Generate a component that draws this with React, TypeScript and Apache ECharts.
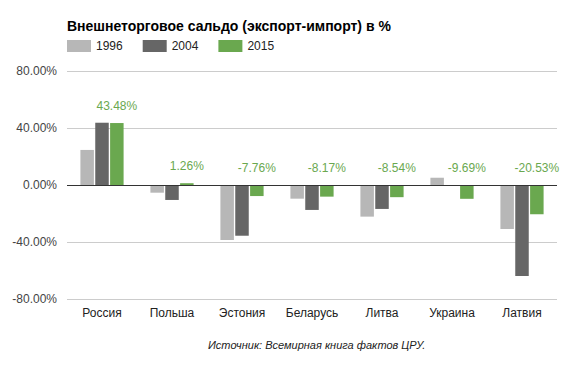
import React, { useEffect, useRef } from "react";
import * as echarts from "echarts";

const categories = ["Россия", "Польша", "Эстония", "Беларусь", "Литва", "Украина", "Латвия"];
const seriesNames = ["1996", "2004", "2015"];
const values1996 = [24.6, -5.4, -38.6, -9.6, -22.2, 5.1, -30.9];
const values2004 = [43.7, -10.5, -35.6, -17.5, -16.8, null, -63.9];
const values2015 = [43.48, 1.26, -7.76, -8.17, -8.54, -9.69, -20.53];
const colors = ["#b7b7b7", "#666666", "#6aa84f"];
const yTicks = { min: -80, max: 80, interval: 40 };

const FONT = "'Liberation Sans', Arial, sans-serif";

export default function App() {
  const ref = useRef<HTMLDivElement>(null);
  useEffect(() => {
    if (!ref.current) return;
    const chart = echarts.init(ref.current, undefined, { renderer: "svg" });
    const fmt = (v: number) => v.toFixed(2) + "%";
    chart.setOption({
      animation: false,
      textStyle: { fontFamily: FONT },
      title: {
        text: "Внешнеторговое сальдо (экспорт-импорт) в %",
        left: 62,
        top: 14,
        textStyle: { fontFamily: FONT, fontSize: 14, fontWeight: "bold", color: "#000" },
      },
      legend: {
        data: seriesNames,
        left: 62,
        top: 35,
        itemWidth: 24,
        itemHeight: 12,
        itemGap: 20,
        icon: "rect",
        textStyle: { fontFamily: FONT, fontSize: 12, color: "#222" },
      },
      grid: { left: 67, right: 25, top: 71, bottom: 72, containLabel: false },
      xAxis: {
        type: "category",
        data: categories,
        axisLine: { show: false },
        axisTick: { show: false },
        axisLabel: { color: "#222", fontSize: 12, fontFamily: FONT, margin: 8 },
      },
      yAxis: {
        type: "value",
        min: yTicks.min,
        max: yTicks.max,
        interval: yTicks.interval,
        axisLine: { show: false },
        axisTick: { show: false },
        splitLine: { lineStyle: { color: "#cccccc", width: 1 } },
        axisLabel: { color: "#444", fontSize: 12, fontFamily: FONT, margin: 10, formatter: fmt },
      },
      series: [
        {
          name: seriesNames[0],
          type: "bar",
          data: values1996,
          barWidth: 13.5,
          barGap: "10%",
          itemStyle: { color: colors[0] },
          markLine: {
            silent: true,
            symbol: "none",
            label: { show: false },
            lineStyle: { color: "#333", width: 1, type: "solid" },
            data: [{ yAxis: 0 }],
          },
        },
        {
          name: seriesNames[1],
          type: "bar",
          data: values2004,
          barWidth: 13.5,
          barGap: "10%",
          itemStyle: { color: colors[1] },
        },
        {
          name: seriesNames[2],
          type: "bar",
          data: values2015,
          barWidth: 13.5,
          barGap: "10%",
          itemStyle: { color: colors[2] },
          label: {
            show: true,
            position: "top",
            distance: 11,
            color: colors[2],
            fontSize: 12,
            fontFamily: FONT,
            formatter: (p: any) => fmt(p.value),
          },
        },
      ],
      graphic: [
        {
          type: "text",
          left: 208,
          top: 339,
          style: {
            text: "Источник: Всемирная книга фактов ЦРУ.",
            font: "italic 11px 'Liberation Sans', Arial, sans-serif",
            fill: "#222",
          },
        },
      ],
    });
    return () => chart.dispose();
  }, []);
  return <div ref={ref} style={{ width: 582, height: 371, position: "absolute", left: 0, top: 0 }} />;
}
